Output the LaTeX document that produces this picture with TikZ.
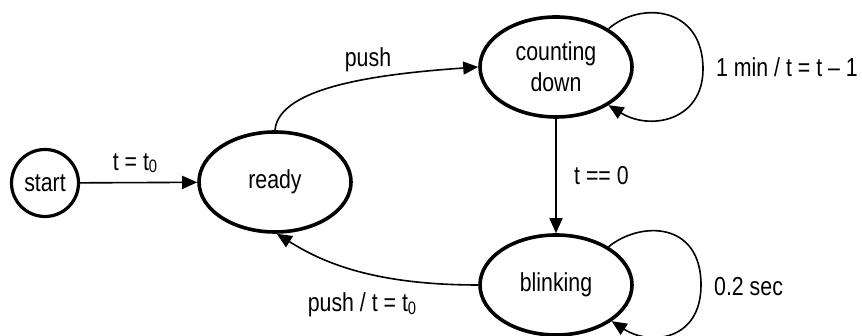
\documentclass[tikz,border=0pt]{standalone}
\usepackage{fontspec}
\setmainfont{Liberation Sans}[FakeStretch=0.82]
\usetikzlibrary{shapes.geometric,arrows.meta}
\newcommand{\zsub}[1]{\raisebox{-2.5pt}{\fontsize{18}{18}\selectfont #1}}
\tikzset{
  state/.style={draw=black, line width=3.6pt, ellipse, minimum width=152pt, minimum height=100pt, inner sep=0pt, align=center, font=\fontsize{26}{31}\selectfont},
  startstate/.style={draw=black, line width=3.2pt, circle, minimum size=67pt, inner sep=0pt, font=\fontsize{26}{31}\selectfont},
  edge/.style={line width=1.6pt, -{Triangle[length=15pt,width=13pt]}},
  lbl/.style={inner sep=0pt, font=\fontsize{26}{31}\selectfont},
}
\begin{document}
\begin{tikzpicture}[x=1pt,y=1pt]
\useasboundingbox (0,0) rectangle (862,336);
\node[startstate] (start) at (45,153) {start};
\node[state] (ready) at (275,154) {ready};
\node[state] (count) at (556,269) {counting\\down};
\node[state] (blink) at (556,51) {blinking};

\coordinate (cloop) at (703,267);
\coordinate (bloop) at (701,51);

\draw[edge] (start) -- (ready);
\draw[edge] (ready.north) to[out=85, in=184, out distance=44pt, in distance=98pt] (count.west);
\draw[edge] (count) -- (blink);
\draw[edge] (blink.west) to[out=180, in=-32, out distance=108pt, in distance=51pt] (ready.-88);
\draw[line width=1.6pt] (count.36) .. controls (640,335) and (703,330) .. (cloop);
\draw[edge] (cloop) .. controls (703,215) and (650,205) .. (count.-36);
\draw[line width=1.6pt] (blink.36) .. controls (640,115) and (701,115) .. (bloop);
\draw[edge] (bloop) .. controls (701,-5) and (650,-10) .. (blink.-33);

\node[lbl] (l1) at (135,173) {t = t\zsub{0}};
\node[lbl] (l2) at (368,276) {push};
\node[lbl, anchor=west] (l3) at (716,269) {1 min / t = t – 1};
\node[lbl, anchor=west] (l4) at (574,160) {t == 0};
\node[lbl, anchor=west] (l5) at (714,49) {0.2 sec};
\node[lbl] (l6) at (362,31) {push / t = t\zsub{0}};
\end{tikzpicture}
\end{document}
